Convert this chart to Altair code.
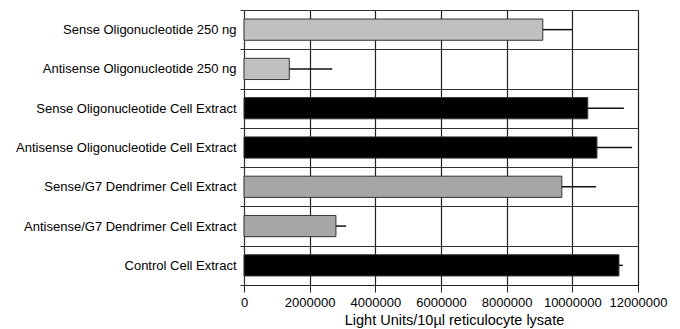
import altair as alt
import pandas as pd

categories = [
    "Sense Oligonucleotide 250 ng",
    "Antisense Oligonucleotide 250 ng",
    "Sense Oligonucleotide Cell Extract",
    "Antisense Oligonucleotide Cell Extract",
    "Sense/G7 Dendrimer Cell Extract",
    "Antisense/G7 Dendrimer Cell Extract",
    "Control Cell Extract",
]
values = [9100000, 1380000, 10470000, 10750000, 9680000, 2800000, 11420000]
errors = [920000, 1310000, 1100000, 1070000, 1040000, 310000, 120000]
groups = ["oligo", "oligo", "extract", "extract", "dendrimer", "dendrimer", "extract"]
x_ticks = list(range(0, 12000001, 500000))

df = pd.DataFrame({"cat": categories, "val": values, "err": errors, "grp": groups})

FONT = "Liberation Sans"
major = "datum.value % 2000000 === 0"

y_enc = alt.Y(
    "cat:N",
    sort=categories,
    title=None,
    scale=alt.Scale(paddingInner=0, paddingOuter=0),
    axis=alt.Axis(
        grid=True,
        gridColor="#333",
        gridWidth=1.2,
        tickBand="extent",
        tickSize=4,
        tickColor="#333",
        labelPadding=4,
        labelFontSize=13,
        labelFont=FONT,
        labelColor="#000",
        domainColor="#333",
        labelLimit=400,
    ),
)

x_enc = alt.X(
    "val:Q",
    title="Light Units/10µl reticulocyte lysate",
    scale=alt.Scale(domain=[0, 12000000], nice=False),
    axis=alt.Axis(
        values=x_ticks,
        labelExpr=f"{major} ? format(datum.value, 'd') : ''",
        grid=True,
        gridColor="#222",
        gridWidth=1.2,
        gridOpacity={"condition": {"test": major, "value": 1}, "value": 0},
        tickSize={"condition": {"test": major, "value": 7}, "value": 3},
        tickColor="#222",
        domainColor="#222",
        domainWidth=1.2,
        labelPadding=4,
        labelFontSize=13,
        labelFont=FONT,
        labelColor="#000",
        labelFlush=False,
        labelOverlap=False,
        titleFont=FONT,
        titleFontSize=14.5,
        titleFontWeight="normal",
        titleColor="#000",
        titlePadding=4,
        titleX=210,
        titleAlign="center",
    ),
)

bars = alt.Chart(df).mark_bar(
    height=alt.RelativeBandSize(0.54), stroke="#333", strokeWidth=1
).encode(
    x=x_enc,
    y=y_enc,
    color=alt.Color(
        "grp:N",
        legend=None,
        scale=alt.Scale(
            domain=["oligo", "extract", "dendrimer"],
            range=["#c0c0c0", "#000000", "#a6a6a6"],
        ),
    ),
)

err = alt.Chart(df).transform_calculate(hi="datum.val + datum.err").mark_rule(
    color="#111", strokeWidth=1.5
).encode(
    x="val:Q",
    x2="hi:Q",
    y=alt.Y("cat:N", sort=categories),
)

chart = (
    alt.layer(bars, err)
    .properties(
        width=394,
        height=275,
        autosize=alt.AutoSizeParams(type="none"),
        padding={"left": 236, "top": 2, "right": 30, "bottom": 45},
    )
    .configure_view(stroke="#222", strokeWidth=1.5)
    .configure(background="white")
)

chart.save("out.html", embed_options={"renderer": "svg", "actions": False})
